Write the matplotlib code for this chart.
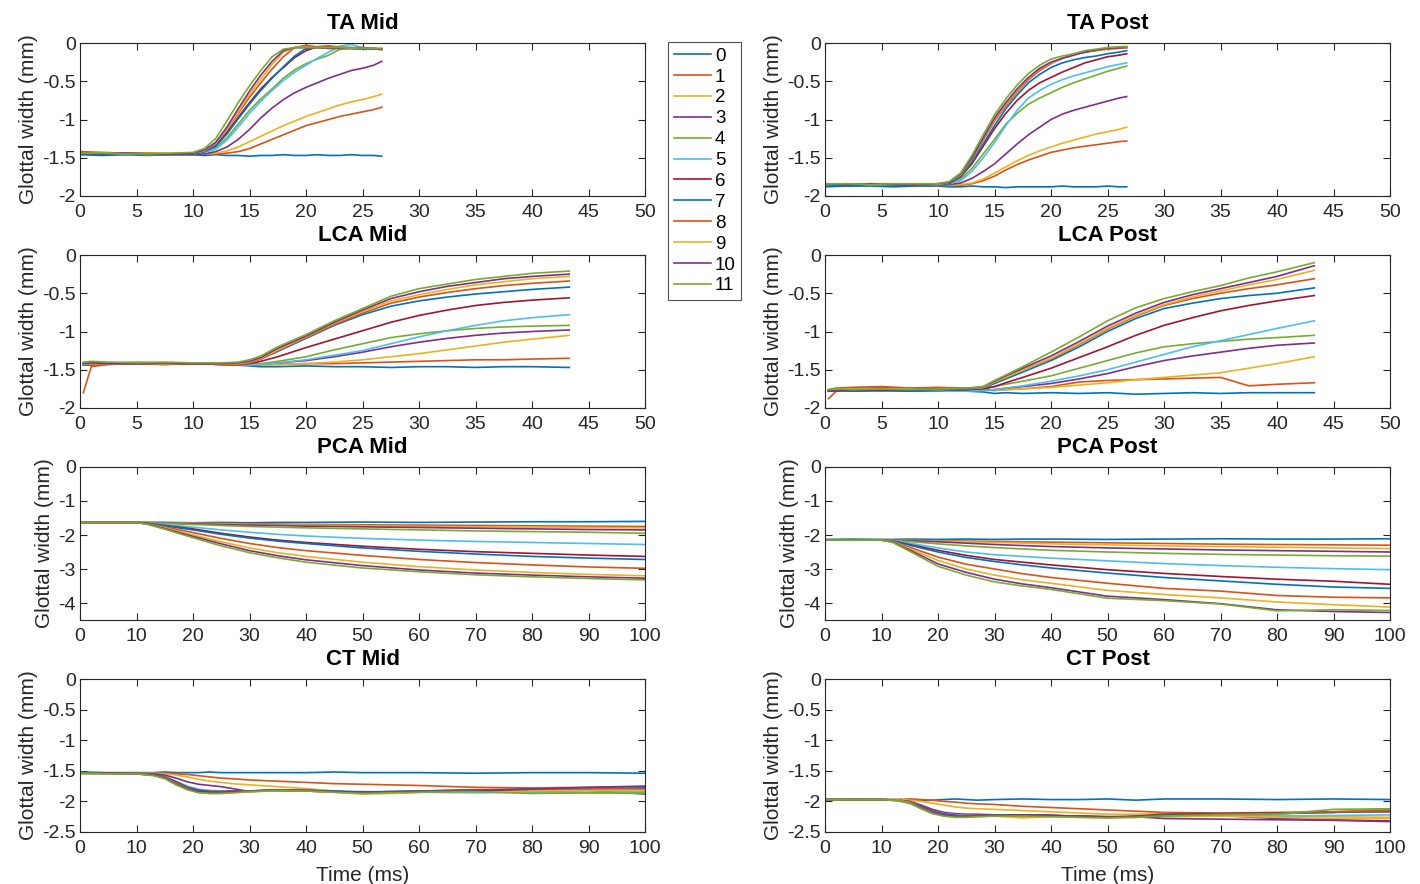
import matplotlib
matplotlib.use("Agg")
import matplotlib.pyplot as plt
from matplotlib.ticker import FormatStrFormatter

plt.rcParams["font.family"] = ["Liberation Sans", "DejaVu Sans"]
plt.rcParams["axes.unicode_minus"] = False

# matlab default line colours, 12 stimulation levels
colors = ["#0072BD", "#D95319", "#EDB120", "#7E2F8E", "#77AC30", "#4DBEEE", "#A2142F"]
levels = [str(i) for i in range(12)]

# ---- TA ----
t_ta = [0, 2, 4, 6, 8, 10, 11, 12, 13, 14, 15, 16, 17, 18, 19, 20, 21, 22, 23, 24, 25, 26, 26.7]

ta_mid = [
    [-1.46, -1.47, -1.46, -1.47, -1.46, -1.46, -1.47, -1.46, -1.47, -1.47, -1.48, -1.47, -1.47, -1.46, -1.47, -1.47, -1.46, -1.47, -1.47, -1.46, -1.47, -1.47, -1.48],
    [-1.43, -1.44, -1.45, -1.44, -1.45, -1.45, -1.45, -1.45, -1.44, -1.42, -1.38, -1.32, -1.26, -1.20, -1.14, -1.08, -1.04, -1.00, -0.96, -0.93, -0.90, -0.87, -0.84],
    [-1.44, -1.45, -1.44, -1.46, -1.45, -1.45, -1.45, -1.44, -1.41, -1.36, -1.29, -1.22, -1.15, -1.08, -1.02, -0.96, -0.91, -0.86, -0.81, -0.77, -0.74, -0.70, -0.67],
    [-1.45, -1.44, -1.45, -1.45, -1.46, -1.46, -1.45, -1.42, -1.36, -1.26, -1.13, -0.98, -0.85, -0.74, -0.65, -0.58, -0.52, -0.46, -0.41, -0.36, -0.33, -0.29, -0.24],
    [-1.44, -1.45, -1.44, -1.45, -1.45, -1.44, -1.42, -1.37, -1.24, -1.06, -0.88, -0.73, -0.60, -0.46, -0.35, -0.27, -0.21, -0.16, -0.08, -0.07, -0.07, -0.08, -0.08],
    [-1.45, -1.44, -1.46, -1.45, -1.45, -1.45, -1.43, -1.39, -1.27, -1.10, -0.92, -0.76, -0.62, -0.49, -0.38, -0.29, -0.20, -0.12, -0.04, -0.02, -0.06, -0.07, -0.08],
    [-1.44, -1.45, -1.45, -1.44, -1.45, -1.45, -1.42, -1.34, -1.17, -0.97, -0.78, -0.60, -0.45, -0.32, -0.19, -0.10, -0.05, -0.04, -0.06, -0.07, -0.07, -0.08, -0.08],
    [-1.45, -1.45, -1.46, -1.45, -1.45, -1.45, -1.42, -1.35, -1.19, -0.99, -0.80, -0.62, -0.46, -0.31, -0.17, -0.07, -0.06, -0.07, -0.07, -0.07, -0.08, -0.08, -0.08],
    [-1.42, -1.43, -1.44, -1.44, -1.45, -1.44, -1.41, -1.31, -1.13, -0.92, -0.71, -0.52, -0.34, -0.18, -0.06, -0.03, -0.05, -0.04, -0.05, -0.06, -0.06, -0.07, -0.09],
    [-1.44, -1.44, -1.45, -1.44, -1.44, -1.44, -1.41, -1.31, -1.12, -0.90, -0.67, -0.47, -0.28, -0.12, -0.06, -0.05, -0.06, -0.06, -0.06, -0.06, -0.07, -0.07, -0.07],
    [-1.44, -1.45, -1.44, -1.45, -1.45, -1.44, -1.40, -1.30, -1.10, -0.86, -0.63, -0.42, -0.24, -0.10, -0.06, -0.06, -0.06, -0.07, -0.07, -0.07, -0.07, -0.07, -0.08],
    [-1.44, -1.44, -1.45, -1.45, -1.44, -1.43, -1.38, -1.25, -1.02, -0.78, -0.56, -0.36, -0.18, -0.08, -0.06, -0.06, -0.06, -0.06, -0.06, -0.07, -0.07, -0.07, -0.07],
]

ta_post = [
    [-1.88, -1.87, -1.87, -1.88, -1.87, -1.87, -1.88, -1.88, -1.87, -1.88, -1.88, -1.89, -1.88, -1.88, -1.88, -1.88, -1.87, -1.88, -1.88, -1.88, -1.87, -1.88, -1.88],
    [-1.85, -1.84, -1.85, -1.85, -1.86, -1.86, -1.86, -1.86, -1.84, -1.80, -1.74, -1.66, -1.59, -1.53, -1.48, -1.43, -1.40, -1.37, -1.35, -1.33, -1.31, -1.29, -1.28],
    [-1.84, -1.85, -1.85, -1.84, -1.85, -1.86, -1.86, -1.85, -1.83, -1.78, -1.70, -1.62, -1.54, -1.47, -1.41, -1.36, -1.31, -1.27, -1.23, -1.19, -1.16, -1.13, -1.10],
    [-1.85, -1.85, -1.84, -1.85, -1.85, -1.86, -1.85, -1.83, -1.77, -1.68, -1.58, -1.45, -1.32, -1.20, -1.10, -1.00, -0.93, -0.88, -0.84, -0.80, -0.76, -0.72, -0.70],
    [-1.84, -1.85, -1.85, -1.84, -1.85, -1.85, -1.83, -1.78, -1.64, -1.45, -1.26, -1.06, -0.92, -0.80, -0.72, -0.65, -0.58, -0.52, -0.47, -0.42, -0.37, -0.33, -0.30],
    [-1.85, -1.84, -1.85, -1.85, -1.84, -1.85, -1.84, -1.80, -1.68, -1.50, -1.30, -1.08, -0.88, -0.72, -0.62, -0.54, -0.48, -0.43, -0.39, -0.35, -0.31, -0.28, -0.26],
    [-1.84, -1.85, -1.84, -1.85, -1.85, -1.84, -1.83, -1.75, -1.58, -1.35, -1.12, -0.92, -0.75, -0.62, -0.52, -0.45, -0.38, -0.32, -0.26, -0.22, -0.18, -0.16, -0.14],
    [-1.86, -1.87, -1.85, -1.86, -1.85, -1.85, -1.84, -1.74, -1.56, -1.32, -1.08, -0.86, -0.68, -0.52, -0.41, -0.32, -0.26, -0.22, -0.19, -0.17, -0.14, -0.12, -0.10],
    [-1.84, -1.85, -1.84, -1.84, -1.85, -1.84, -1.82, -1.72, -1.52, -1.27, -1.02, -0.82, -0.64, -0.48, -0.36, -0.27, -0.20, -0.15, -0.12, -0.10, -0.08, -0.07, -0.06],
    [-1.85, -1.84, -1.85, -1.85, -1.84, -1.85, -1.82, -1.72, -1.50, -1.25, -1.00, -0.80, -0.62, -0.46, -0.34, -0.26, -0.20, -0.15, -0.11, -0.09, -0.07, -0.05, -0.04],
    [-1.84, -1.85, -1.84, -1.85, -1.85, -1.84, -1.82, -1.71, -1.50, -1.24, -0.98, -0.78, -0.60, -0.45, -0.33, -0.25, -0.20, -0.16, -0.12, -0.09, -0.07, -0.06, -0.06],
    [-1.84, -1.84, -1.85, -1.84, -1.84, -1.84, -1.81, -1.70, -1.47, -1.20, -0.94, -0.73, -0.55, -0.40, -0.29, -0.21, -0.17, -0.14, -0.10, -0.08, -0.06, -0.05, -0.05],
]

# ---- LCA ----
t_lca = [0.3, 1, 2.5, 5, 7.5, 10, 12.5, 14, 15, 16, 17.5, 20, 22.5, 25, 27.5, 30, 32.5, 35, 37.5, 40, 43.3]

lca_mid = [
    [-1.44, -1.44, -1.43, -1.42, -1.43, -1.42, -1.43, -1.44, -1.45, -1.46, -1.46, -1.45, -1.46, -1.46, -1.47, -1.46, -1.46, -1.47, -1.46, -1.46, -1.47],
    [-1.80, -1.46, -1.43, -1.42, -1.43, -1.42, -1.43, -1.44, -1.44, -1.43, -1.43, -1.42, -1.42, -1.41, -1.40, -1.39, -1.38, -1.37, -1.37, -1.36, -1.35],
    [-1.42, -1.43, -1.42, -1.41, -1.42, -1.42, -1.43, -1.44, -1.44, -1.44, -1.43, -1.42, -1.40, -1.37, -1.33, -1.29, -1.24, -1.19, -1.14, -1.10, -1.05],
    [-1.43, -1.42, -1.41, -1.42, -1.42, -1.42, -1.43, -1.44, -1.44, -1.43, -1.41, -1.38, -1.33, -1.27, -1.20, -1.14, -1.09, -1.05, -1.02, -1.00, -0.98],
    [-1.41, -1.40, -1.41, -1.40, -1.41, -1.42, -1.42, -1.43, -1.43, -1.42, -1.39, -1.33, -1.24, -1.16, -1.08, -1.03, -0.99, -0.96, -0.94, -0.93, -0.92],
    [-1.42, -1.41, -1.42, -1.41, -1.41, -1.41, -1.42, -1.43, -1.44, -1.43, -1.41, -1.37, -1.31, -1.25, -1.16, -1.07, -0.99, -0.92, -0.86, -0.82, -0.78],
    [-1.42, -1.43, -1.42, -1.41, -1.42, -1.42, -1.43, -1.43, -1.42, -1.39, -1.33, -1.21, -1.10, -0.99, -0.88, -0.79, -0.72, -0.66, -0.62, -0.59, -0.56],
    [-1.43, -1.42, -1.41, -1.41, -1.42, -1.41, -1.42, -1.42, -1.40, -1.36, -1.26, -1.09, -0.92, -0.78, -0.67, -0.60, -0.55, -0.51, -0.48, -0.45, -0.42],
    [-1.42, -1.43, -1.42, -1.42, -1.43, -1.42, -1.43, -1.43, -1.41, -1.36, -1.25, -1.08, -0.91, -0.76, -0.63, -0.55, -0.49, -0.44, -0.40, -0.37, -0.34],
    [-1.43, -1.42, -1.42, -1.41, -1.42, -1.41, -1.42, -1.42, -1.40, -1.35, -1.24, -1.07, -0.89, -0.74, -0.60, -0.52, -0.45, -0.39, -0.35, -0.31, -0.28],
    [-1.42, -1.41, -1.42, -1.42, -1.41, -1.42, -1.42, -1.41, -1.39, -1.34, -1.22, -1.06, -0.88, -0.72, -0.57, -0.48, -0.41, -0.36, -0.31, -0.28, -0.25],
    [-1.40, -1.39, -1.40, -1.41, -1.40, -1.41, -1.41, -1.40, -1.37, -1.32, -1.20, -1.04, -0.86, -0.70, -0.54, -0.44, -0.38, -0.32, -0.28, -0.24, -0.21],
]

lca_post = [
    [-1.78, -1.77, -1.78, -1.77, -1.78, -1.77, -1.78, -1.79, -1.81, -1.80, -1.81, -1.80, -1.81, -1.80, -1.82, -1.81, -1.80, -1.81, -1.80, -1.80, -1.80],
    [-1.88, -1.78, -1.75, -1.73, -1.74, -1.75, -1.74, -1.76, -1.77, -1.76, -1.75, -1.72, -1.66, -1.64, -1.63, -1.62, -1.61, -1.60, -1.71, -1.69, -1.67],
    [-1.76, -1.77, -1.76, -1.75, -1.76, -1.76, -1.77, -1.77, -1.77, -1.76, -1.75, -1.73, -1.70, -1.67, -1.63, -1.60, -1.57, -1.54, -1.48, -1.42, -1.33],
    [-1.78, -1.77, -1.78, -1.77, -1.77, -1.78, -1.77, -1.77, -1.76, -1.74, -1.72, -1.68, -1.62, -1.55, -1.46, -1.38, -1.32, -1.27, -1.22, -1.18, -1.15],
    [-1.77, -1.76, -1.77, -1.76, -1.77, -1.77, -1.76, -1.75, -1.72, -1.69, -1.65, -1.58, -1.48, -1.38, -1.28, -1.20, -1.16, -1.13, -1.10, -1.08, -1.05],
    [-1.78, -1.78, -1.77, -1.78, -1.77, -1.78, -1.78, -1.77, -1.76, -1.74, -1.71, -1.65, -1.58, -1.50, -1.40, -1.30, -1.20, -1.12, -1.04, -0.96, -0.86],
    [-1.78, -1.77, -1.76, -1.77, -1.76, -1.77, -1.76, -1.75, -1.72, -1.67, -1.60, -1.48, -1.34, -1.20, -1.05, -0.92, -0.82, -0.73, -0.66, -0.60, -0.53],
    [-1.78, -1.77, -1.78, -1.77, -1.78, -1.77, -1.76, -1.74, -1.68, -1.62, -1.53, -1.38, -1.20, -1.00, -0.83, -0.70, -0.63, -0.57, -0.53, -0.50, -0.43],
    [-1.76, -1.74, -1.73, -1.72, -1.74, -1.73, -1.74, -1.73, -1.66, -1.60, -1.50, -1.36, -1.17, -0.97, -0.80, -0.66, -0.57, -0.50, -0.44, -0.39, -0.31],
    [-1.77, -1.76, -1.75, -1.76, -1.75, -1.76, -1.75, -1.73, -1.66, -1.60, -1.50, -1.35, -1.16, -0.96, -0.79, -0.65, -0.55, -0.47, -0.39, -0.32, -0.20],
    [-1.77, -1.78, -1.76, -1.77, -1.76, -1.75, -1.75, -1.72, -1.65, -1.58, -1.48, -1.32, -1.13, -0.93, -0.76, -0.62, -0.52, -0.44, -0.36, -0.28, -0.14],
    [-1.76, -1.75, -1.76, -1.75, -1.76, -1.75, -1.74, -1.72, -1.64, -1.57, -1.46, -1.27, -1.07, -0.86, -0.69, -0.57, -0.48, -0.40, -0.30, -0.22, -0.10],
]

# ---- PCA ----
t_pca = [0, 5, 10, 12, 15, 20, 25, 30, 35, 40, 50, 60, 70, 80, 90, 100]

pca_mid = [
    [-1.63, -1.62, -1.63, -1.63, -1.63, -1.64, -1.63, -1.64, -1.63, -1.63, -1.62, -1.63, -1.62, -1.61, -1.61, -1.60],
    [-1.63, -1.63, -1.63, -1.63, -1.64, -1.65, -1.66, -1.67, -1.68, -1.69, -1.70, -1.71, -1.72, -1.73, -1.74, -1.75],
    [-1.63, -1.63, -1.63, -1.63, -1.64, -1.66, -1.67, -1.69, -1.70, -1.71, -1.73, -1.75, -1.76, -1.77, -1.78, -1.79],
    [-1.63, -1.63, -1.63, -1.64, -1.65, -1.67, -1.69, -1.71, -1.72, -1.74, -1.76, -1.78, -1.80, -1.82, -1.84, -1.85],
    [-1.63, -1.63, -1.63, -1.64, -1.66, -1.69, -1.72, -1.75, -1.77, -1.79, -1.82, -1.85, -1.88, -1.90, -1.92, -1.95],
    [-1.63, -1.63, -1.63, -1.65, -1.69, -1.77, -1.85, -1.92, -1.98, -2.03, -2.10, -2.15, -2.19, -2.22, -2.25, -2.28],
    [-1.63, -1.63, -1.63, -1.66, -1.72, -1.82, -1.95, -2.06, -2.15, -2.22, -2.33, -2.42, -2.49, -2.54, -2.59, -2.63],
    [-1.63, -1.63, -1.63, -1.66, -1.73, -1.85, -1.98, -2.09, -2.18, -2.25, -2.38, -2.48, -2.56, -2.63, -2.68, -2.72],
    [-1.63, -1.63, -1.63, -1.67, -1.76, -1.93, -2.10, -2.25, -2.37, -2.46, -2.60, -2.72, -2.81, -2.88, -2.94, -2.98],
    [-1.63, -1.63, -1.63, -1.68, -1.79, -2.00, -2.20, -2.38, -2.52, -2.63, -2.80, -2.93, -3.03, -3.10, -3.16, -3.20],
    [-1.63, -1.63, -1.63, -1.68, -1.81, -2.04, -2.26, -2.46, -2.61, -2.73, -2.90, -3.03, -3.12, -3.18, -3.23, -3.27],
    [-1.63, -1.63, -1.63, -1.69, -1.83, -2.08, -2.32, -2.52, -2.67, -2.80, -2.97, -3.08, -3.17, -3.23, -3.28, -3.32],
]

pca_post = [
    [-2.13, -2.12, -2.13, -2.13, -2.12, -2.13, -2.12, -2.13, -2.12, -2.12, -2.13, -2.12, -2.11, -2.12, -2.12, -2.11],
    [-2.15, -2.15, -2.15, -2.15, -2.16, -2.17, -2.18, -2.19, -2.20, -2.21, -2.23, -2.25, -2.27, -2.28, -2.29, -2.30],
    [-2.15, -2.15, -2.15, -2.15, -2.16, -2.18, -2.20, -2.22, -2.24, -2.26, -2.29, -2.32, -2.34, -2.36, -2.38, -2.40],
    [-2.15, -2.15, -2.15, -2.15, -2.17, -2.20, -2.24, -2.28, -2.31, -2.34, -2.38, -2.41, -2.44, -2.46, -2.48, -2.50],
    [-2.15, -2.15, -2.15, -2.16, -2.19, -2.26, -2.32, -2.37, -2.41, -2.45, -2.50, -2.54, -2.57, -2.59, -2.61, -2.62],
    [-2.15, -2.15, -2.15, -2.17, -2.24, -2.38, -2.50, -2.58, -2.63, -2.68, -2.76, -2.84, -2.90, -2.95, -2.99, -3.02],
    [-2.15, -2.15, -2.15, -2.18, -2.28, -2.45, -2.60, -2.72, -2.80, -2.88, -3.02, -3.13, -3.22, -3.30, -3.36, -3.45],
    [-2.15, -2.15, -2.15, -2.18, -2.30, -2.50, -2.66, -2.78, -2.88, -2.97, -3.12, -3.25, -3.35, -3.45, -3.53, -3.57],
    [-2.15, -2.15, -2.15, -2.19, -2.36, -2.65, -2.86, -3.00, -3.14, -3.25, -3.42, -3.57, -3.65, -3.78, -3.83, -3.85],
    [-2.15, -2.15, -2.15, -2.20, -2.40, -2.75, -3.00, -3.18, -3.32, -3.42, -3.63, -3.75, -3.85, -3.97, -4.05, -4.12],
    [-2.15, -2.15, -2.15, -2.21, -2.44, -2.85, -3.10, -3.30, -3.44, -3.55, -3.80, -3.90, -4.02, -4.20, -4.25, -4.28],
    [-2.15, -2.15, -2.15, -2.22, -2.48, -2.92, -3.18, -3.38, -3.50, -3.60, -3.86, -3.93, -4.03, -4.23, -4.20, -4.22],
]

# ---- CT ----
t_ct = [0, 5, 10, 13, 15, 17, 19, 21, 23, 25, 27, 30, 35, 40, 45, 50, 55, 60, 70, 80, 90, 100]

ct_mid = [
    [-1.52, -1.53, -1.53, -1.53, -1.52, -1.53, -1.53, -1.53, -1.52, -1.53, -1.53, -1.53, -1.53, -1.53, -1.52, -1.53, -1.53, -1.53, -1.54, -1.53, -1.53, -1.54],
    [-1.54, -1.54, -1.54, -1.54, -1.54, -1.55, -1.56, -1.58, -1.60, -1.62, -1.63, -1.65, -1.67, -1.69, -1.71, -1.72, -1.73, -1.74, -1.77, -1.78, -1.77, -1.76],
    [-1.54, -1.54, -1.54, -1.54, -1.55, -1.57, -1.60, -1.64, -1.67, -1.69, -1.71, -1.73, -1.76, -1.79, -1.83, -1.87, -1.86, -1.84, -1.82, -1.80, -1.80, -1.80],
    [-1.54, -1.54, -1.54, -1.55, -1.57, -1.62, -1.68, -1.72, -1.74, -1.76, -1.79, -1.84, -1.82, -1.82, -1.84, -1.85, -1.86, -1.85, -1.83, -1.84, -1.82, -1.88],
    [-1.54, -1.54, -1.55, -1.57, -1.61, -1.70, -1.79, -1.84, -1.85, -1.86, -1.85, -1.84, -1.83, -1.83, -1.85, -1.86, -1.85, -1.85, -1.84, -1.86, -1.86, -1.86],
    [-1.54, -1.54, -1.55, -1.56, -1.60, -1.67, -1.75, -1.80, -1.82, -1.83, -1.84, -1.83, -1.82, -1.82, -1.83, -1.84, -1.84, -1.85, -1.86, -1.85, -1.85, -1.84],
    [-1.54, -1.54, -1.55, -1.56, -1.60, -1.68, -1.77, -1.82, -1.84, -1.84, -1.83, -1.83, -1.81, -1.82, -1.84, -1.85, -1.84, -1.83, -1.81, -1.80, -1.78, -1.80],
    [-1.54, -1.54, -1.55, -1.56, -1.60, -1.69, -1.78, -1.83, -1.84, -1.84, -1.84, -1.83, -1.82, -1.82, -1.83, -1.85, -1.84, -1.83, -1.82, -1.80, -1.80, -1.78],
    [-1.54, -1.54, -1.55, -1.57, -1.61, -1.70, -1.79, -1.84, -1.85, -1.85, -1.84, -1.83, -1.82, -1.83, -1.85, -1.86, -1.85, -1.84, -1.82, -1.81, -1.79, -1.80],
    [-1.54, -1.55, -1.55, -1.57, -1.62, -1.72, -1.81, -1.85, -1.87, -1.87, -1.86, -1.84, -1.82, -1.82, -1.85, -1.88, -1.87, -1.85, -1.84, -1.83, -1.82, -1.82],
    [-1.54, -1.54, -1.55, -1.57, -1.62, -1.72, -1.80, -1.84, -1.85, -1.85, -1.84, -1.83, -1.81, -1.82, -1.84, -1.85, -1.85, -1.84, -1.83, -1.80, -1.77, -1.75],
    [-1.54, -1.55, -1.55, -1.58, -1.63, -1.73, -1.81, -1.86, -1.87, -1.87, -1.86, -1.84, -1.82, -1.83, -1.85, -1.87, -1.86, -1.85, -1.84, -1.87, -1.86, -1.87],
]

ct_post = [
    [-1.98, -1.96, -1.97, -1.97, -1.98, -1.99, -1.98, -1.97, -1.96, -1.97, -1.98, -1.97, -1.96, -1.97, -1.97, -1.96, -1.98, -1.96, -1.96, -1.97, -1.96, -1.97],
    [-1.97, -1.97, -1.97, -1.97, -1.96, -1.97, -1.98, -2.00, -2.01, -2.03, -2.04, -2.05, -2.08, -2.10, -2.12, -2.14, -2.16, -2.18, -2.19, -2.18, -2.17, -2.15],
    [-1.97, -1.97, -1.97, -1.97, -1.98, -2.00, -2.03, -2.06, -2.09, -2.11, -2.12, -2.13, -2.15, -2.17, -2.19, -2.21, -2.21, -2.20, -2.22, -2.24, -2.25, -2.26],
    [-1.97, -1.97, -1.97, -1.98, -2.00, -2.06, -2.13, -2.18, -2.20, -2.21, -2.21, -2.22, -2.22, -2.23, -2.24, -2.25, -2.26, -2.24, -2.23, -2.28, -2.30, -2.32],
    [-1.97, -1.97, -1.97, -1.98, -2.02, -2.10, -2.18, -2.22, -2.24, -2.25, -2.24, -2.24, -2.23, -2.24, -2.25, -2.26, -2.25, -2.23, -2.21, -2.20, -2.18, -2.12],
    [-1.97, -1.97, -1.97, -1.98, -2.01, -2.08, -2.16, -2.20, -2.22, -2.23, -2.23, -2.23, -2.22, -2.23, -2.25, -2.26, -2.25, -2.24, -2.23, -2.24, -2.23, -2.22],
    [-1.97, -1.97, -1.97, -1.98, -2.01, -2.08, -2.16, -2.21, -2.23, -2.24, -2.23, -2.23, -2.22, -2.23, -2.24, -2.25, -2.24, -2.21, -2.20, -2.19, -2.17, -2.17],
    [-1.97, -1.97, -1.97, -1.98, -2.01, -2.09, -2.17, -2.21, -2.23, -2.24, -2.24, -2.23, -2.22, -2.23, -2.25, -2.26, -2.25, -2.22, -2.21, -2.20, -2.18, -2.16],
    [-1.97, -1.97, -1.97, -1.98, -2.02, -2.10, -2.18, -2.22, -2.24, -2.24, -2.24, -2.24, -2.23, -2.24, -2.25, -2.26, -2.25, -2.24, -2.21, -2.20, -2.17, -2.15],
    [-1.97, -1.97, -1.97, -1.98, -2.02, -2.11, -2.19, -2.23, -2.25, -2.26, -2.25, -2.24, -2.27, -2.25, -2.26, -2.27, -2.26, -2.25, -2.24, -2.26, -2.28, -2.28],
    [-1.97, -1.97, -1.97, -1.99, -2.03, -2.11, -2.19, -2.22, -2.24, -2.25, -2.24, -2.23, -2.22, -2.23, -2.24, -2.26, -2.25, -2.28, -2.29, -2.30, -2.31, -2.33],
    [-1.97, -1.97, -1.97, -1.99, -2.03, -2.12, -2.20, -2.24, -2.26, -2.26, -2.25, -2.24, -2.24, -2.25, -2.26, -2.27, -2.26, -2.24, -2.22, -2.21, -2.13, -2.12],
]

panels = [
    ("TA Mid", t_ta, ta_mid, 0, 0, (-2, 0), 0.5, 50, 5),
    ("TA Post", t_ta, ta_post, 0, 1, (-2, 0), 0.5, 50, 5),
    ("LCA Mid", t_lca, lca_mid, 1, 0, (-2, 0), 0.5, 50, 5),
    ("LCA Post", t_lca, lca_post, 1, 1, (-2, 0), 0.5, 50, 5),
    ("PCA Mid", t_pca, pca_mid, 2, 0, (-4.5, 0), 1, 100, 10),
    ("PCA Post", t_pca, pca_post, 2, 1, (-4.5, 0), 1, 100, 10),
    ("CT Mid", t_ct, ct_mid, 3, 0, (-2.5, 0), 0.5, 100, 10),
    ("CT Post", t_ct, ct_post, 3, 1, (-2.5, 0), 0.5, 100, 10),
]

fig = plt.figure(figsize=(14.2, 8.84), dpi=100)

col_left = [80 / 1420, 825 / 1420]
ax_w = 565 / 1420
ax_h = 153 / 884
row_bottom = [1 - 196 / 884, 1 - 408 / 884, 1 - 620 / 884, 1 - 832 / 884]
axcol = "#262626"

handles = None
for title, tt, series, r, c, ylim, ystep, xmax, xstep in panels:
    ax = fig.add_axes([col_left[c], row_bottom[r], ax_w, ax_h])
    lines = []
    for i, y in enumerate(series):
        ln, = ax.plot(tt, y, color=colors[i % len(colors)], lw=1.2, label=levels[i])
        lines.append(ln)
    if handles is None:
        handles = lines

    ax.set_xlim(0, xmax)
    ax.set_ylim(*ylim)
    ax.set_xticks(range(0, xmax + 1, xstep))
    n = int(round(-ylim[0] / ystep))
    ax.set_yticks([-k * ystep for k in range(n, -1, -1)])
    ax.yaxis.set_major_formatter(FormatStrFormatter("%g"))
    ax.tick_params(direction="in", top=True, right=True, length=5, width=0.8,
                   labelsize=14, colors=axcol, pad=3)
    ax.tick_params(axis="x", pad=6)
    for sp in ax.spines.values():
        sp.set_color(axcol)
        sp.set_linewidth(0.8)
    ax.set_title(title, fontsize=16, fontweight="bold", pad=10)
    ax.set_ylabel("Glottal width (mm)", fontsize=15, color=axcol, labelpad=3)
    if r == 3:
        ax.set_xlabel("Time (ms)", fontsize=15, color=axcol, labelpad=6)

leg = fig.legend(handles=handles, labels=levels, loc="upper left",
                 bbox_to_anchor=(668 / 1420, 1 - 42 / 884), fontsize=13.5,
                 frameon=True, fancybox=False, edgecolor=axcol, handlelength=2.0,
                 handletextpad=0.2, labelspacing=0.2, borderpad=0.3, borderaxespad=0)
leg.get_frame().set_linewidth(0.8)

fig.savefig("out.png", dpi=100)
